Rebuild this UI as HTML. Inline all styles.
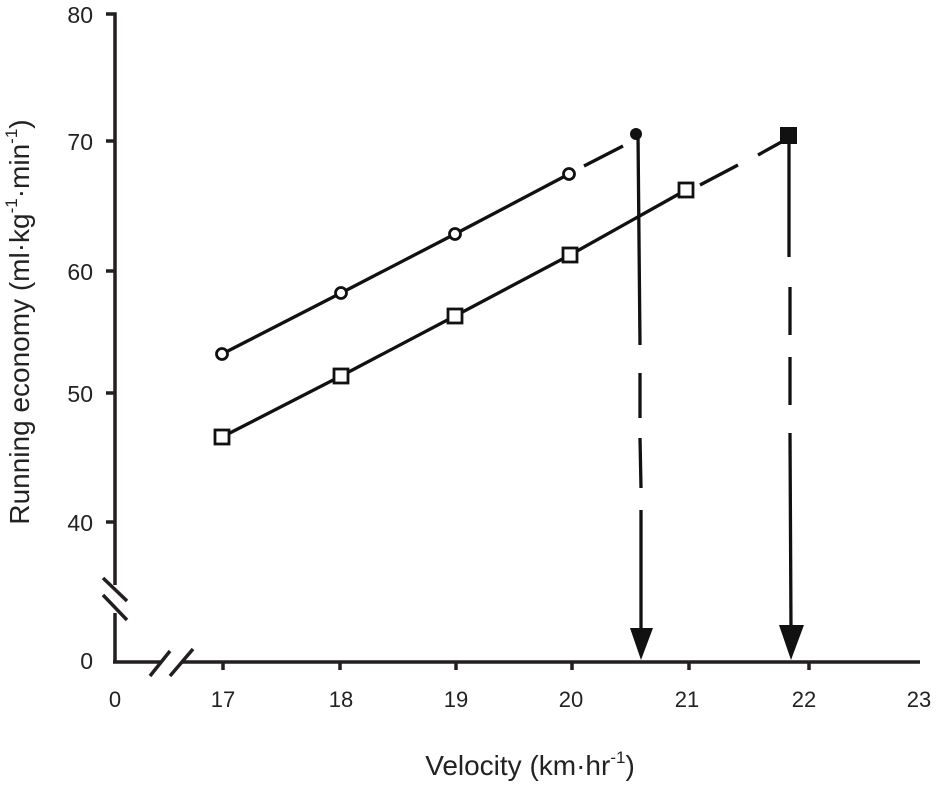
<!DOCTYPE html>
<html><head><meta charset="utf-8"><style>body{margin:0;background:#fff}svg{display:block}text{font-family:"Liberation Sans",sans-serif;fill:#222}</style></head>
<body>
<svg width="944" height="786" viewBox="0 0 944 786">
<g stroke="#231f20" stroke-width="3.5" fill="none">
<polyline points="106,14 115,14 115,585"/>
<line x1="115" y1="613" x2="115" y2="662"/>
<line x1="103" y1="578" x2="127" y2="601"/>
<line x1="103" y1="595" x2="127" y2="620"/>
<line x1="113" y1="662" x2="162" y2="662"/>
<line x1="182" y1="662" x2="920" y2="662"/>
<line x1="150" y1="676" x2="170" y2="651"/>
<line x1="170" y1="676" x2="193" y2="649"/>
<line x1="106" y1="141" x2="115" y2="141"/>
<line x1="106" y1="271" x2="115" y2="271"/>
<line x1="106" y1="393" x2="115" y2="393"/>
<line x1="106" y1="522" x2="115" y2="522"/>
<line x1="223" y1="662" x2="223" y2="670"/>
<line x1="340" y1="662" x2="340" y2="670"/>
<line x1="456" y1="662" x2="456" y2="670"/>
<line x1="572" y1="662" x2="572" y2="670"/>
<line x1="689" y1="662" x2="689" y2="670"/>
<line x1="809" y1="662" x2="809" y2="670"/>
</g>
<g stroke="#111" stroke-width="3.3" fill="none">
<polyline points="222,354 341,293 455,234 569,174"/>
<line x1="584" y1="166" x2="623" y2="146"/>
<polyline points="222,437 341,376 455,316 570,255 686,190"/>
<line x1="700" y1="185" x2="738" y2="165"/>
<line x1="758" y1="155" x2="785" y2="140"/>
<line x1="638" y1="134" x2="640" y2="345"/>
<line x1="640" y1="373" x2="640" y2="418"/>
<line x1="640" y1="438" x2="641" y2="488"/>
<line x1="641" y1="510" x2="641" y2="632"/>
<line x1="789" y1="134" x2="789" y2="257"/>
<line x1="790" y1="287" x2="790" y2="335"/>
<line x1="790" y1="357" x2="790" y2="405"/>
<line x1="790" y1="433" x2="791" y2="630"/>
</g>
<polygon points="630,628 653,628 641,660" fill="#111"/>
<polygon points="779,625 804,625 791,660" fill="#111"/>
<circle cx="636" cy="134" r="6" fill="#111"/>
<rect x="780" y="127" width="17" height="17" fill="#111"/>
<g fill="#fff" stroke="#111" stroke-width="2.8">
<circle cx="222" cy="354" r="5.5"/><circle cx="341" cy="293" r="5.5"/><circle cx="455" cy="234" r="5.5"/><circle cx="569" cy="174" r="5.5"/>
<rect x="215" y="430" width="14" height="14"/><rect x="334" y="369" width="14" height="14"/><rect x="448" y="309" width="14" height="14"/><rect x="563" y="248" width="14" height="14"/><rect x="679" y="183" width="14" height="14"/>
</g>
<g font-size="23" text-anchor="end">
<text x="93" y="23">80</text><text x="93" y="150">70</text><text x="93" y="280">60</text><text x="93" y="402">50</text><text x="93" y="531">40</text><text x="93" y="669">0</text>
</g>
<g font-size="22" text-anchor="middle">
<text x="115" y="707">0</text><text x="223" y="707">17</text><text x="341" y="707">18</text><text x="456" y="707">19</text><text x="571" y="707">20</text><text x="687" y="707">21</text><text x="804" y="707">22</text><text x="919" y="707">23</text>
<text x="530" y="775" font-size="28">Velocity (km·hr<tspan font-size="17" dy="-12">-1</tspan><tspan dy="12">)</tspan></text>
<text transform="translate(29,322) rotate(-90)" font-size="28">Running economy (ml·kg<tspan font-size="17" dy="-12">-1</tspan><tspan dy="12">·min</tspan><tspan font-size="17" dy="-12">-1</tspan><tspan dy="12">)</tspan></text>
</g>
</svg>
</body></html>
